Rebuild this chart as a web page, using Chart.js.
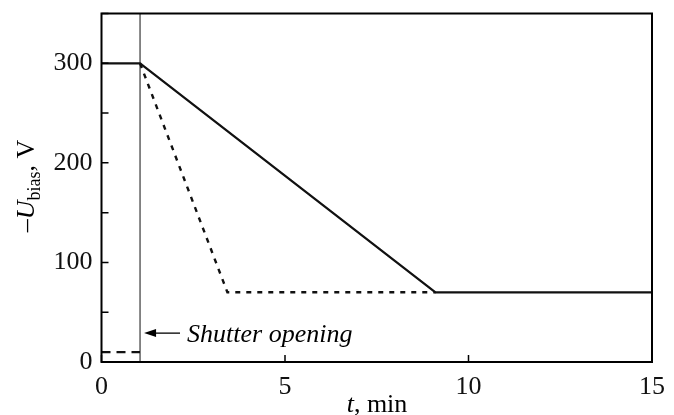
<!DOCTYPE html>
<html>
<head>
<meta charset="utf-8">
<script src="https://cdn.jsdelivr.net/npm/chart.js@4"></script>
<style>
  html, body { margin: 0; padding: 0; background: #fff; }
  #wrap { width: 674px; height: 415px; }
</style>
</head>
<body>
<div id="wrap"><canvas id="chart" width="674" height="415"></canvas></div>
<script>
// values (t in min, -U_bias in V)
const tSolid = [0, 1.05, 9.1, 15];
const uSolid = [300, 300, 70, 70];
const tDotted = [1.05, 3.43, 9.1];
const uDotted = [300, 70, 70];
const tBase = [0, 1.05];
const uBase = [10, 10];
const tShutter = [1.05, 1.05];
const uShutter = [0, 350];
const xTickLabels = [0, 5, 10, 15];
const yTickLabels = [0, 100, 200, 300];

const FONT = '"Liberation Serif", "DejaVu Serif", serif';

function pts(xs, ys) {
    return xs.map((x, i) => ({ x: x, y: ys[i] }));
}

// frame, inward ticks, titles and the shutter note
const decor = {
    id: 'decor',
    afterDraw(chart) {
        const ctx = chart.ctx;
        const a = chart.chartArea;
        const sx = chart.scales.x;
        const sy = chart.scales.y;
        ctx.save();
        ctx.strokeStyle = '#000';
        ctx.lineWidth = 2;
        ctx.strokeRect(a.left, a.top, a.right - a.left, a.bottom - a.top);

        // ticks pointing in
        ctx.lineWidth = 1.5;
        ctx.beginPath();
        sy.ticks.forEach(t => {
            const y = sy.getPixelForValue(t.value);
            ctx.moveTo(a.left, y);
            ctx.lineTo(a.left + 7, y);
        });
        sx.ticks.forEach(t => {
            const x = sx.getPixelForValue(t.value);
            ctx.moveTo(x, a.bottom);
            ctx.lineTo(x, a.bottom - 7);
        });
        ctx.stroke();

        // arrow + "Shutter opening"
        const x0 = sx.getPixelForValue(tShutter[0]);
        const ya = sy.getPixelForValue(29);
        ctx.fillStyle = '#000';
        ctx.lineWidth = 1.3;
        ctx.beginPath();
        ctx.moveTo(x0 + 14, ya);
        ctx.lineTo(x0 + 40, ya);
        ctx.stroke();
        ctx.beginPath();
        ctx.moveTo(x0 + 4, ya);
        ctx.lineTo(x0 + 16, ya - 4);
        ctx.lineTo(x0 + 16, ya + 4);
        ctx.closePath();
        ctx.fill();
        ctx.font = 'italic 26px ' + FONT;
        ctx.textBaseline = 'alphabetic';
        ctx.textAlign = 'left';
        ctx.fillText('Shutter opening', x0 + 47, ya + 9);

        // x title: t, min
        ctx.font = 'italic 26px ' + FONT;
        let w1 = ctx.measureText('t').width;
        ctx.font = '26px ' + FONT;
        let w2 = ctx.measureText(', min').width;
        let xs = 377 - (w1 + w2) / 2;
        ctx.font = 'italic 26px ' + FONT;
        ctx.fillText('t', xs, 412);
        ctx.font = '26px ' + FONT;
        ctx.fillText(', min', xs + w1, 412);

        // y title: -U_bias, V (rotated)
        ctx.translate(34, 186);
        ctx.rotate(-Math.PI / 2);
        const parts = [
            { s: '\u2013', f: '26px ' + FONT, dy: 0 },
            { s: 'U', f: 'italic 26px ' + FONT, dy: 0 },
            { s: 'bias', f: '18px ' + FONT, dy: 6 },
            { s: ', V', f: '26px ' + FONT, dy: 0 }
        ];
        let total = 0;
        parts.forEach(p => { ctx.font = p.f; p.w = ctx.measureText(p.s).width; total += p.w; });
        let cx = -total / 2;
        parts.forEach(p => {
            ctx.font = p.f;
            ctx.fillText(p.s, cx, p.dy);
            cx += p.w;
        });
        ctx.restore();
    }
};

new Chart(document.getElementById('chart'), {
    type: 'scatter',
    data: {
        datasets: [
            { data: pts(tSolid, uSolid), borderColor: '#111', borderWidth: 2.2 },
            { data: pts(tDotted, uDotted), borderColor: '#111', borderWidth: 2.4, borderDash: [5, 6] },
            { data: pts(tBase, uBase), borderColor: '#111', borderWidth: 2.2, borderDash: [9, 6] },
            { data: pts(tShutter, uShutter), borderColor: '#111', borderWidth: 1 }
        ].map(d => Object.assign(d, { showLine: true, pointRadius: 0, fill: false, tension: 0 }))
    },
    options: {
        responsive: false,
        animation: false,
        layout: { padding: { top: 13.5, right: 22, left: 0, bottom: 0 } },
        plugins: { legend: { display: false }, tooltip: { enabled: false } },
        scales: {
            x: {
                type: 'linear',
                min: 0, max: 15,
                grid: { display: false, drawTicks: false },
                border: { display: false },
                afterFit(s) { s.height = 53; s.paddingLeft = 0; s.paddingRight = 0; },
                ticks: {
                    stepSize: 5,
                    color: '#111',
                    padding: 10,
                    font: { family: FONT, size: 26 },
                    callback: v => xTickLabels.includes(v) ? String(v) : ''
                }
            },
            y: {
                type: 'linear',
                min: 0, max: 350,
                grid: { display: false, drawTicks: false },
                border: { display: false },
                afterFit(s) { s.width = 101.5; s.paddingTop = 0; s.paddingBottom = 0; },
                ticks: {
                    stepSize: 50,
                    color: '#111',
                    padding: 9,
                    font: { family: FONT, size: 26 },
                    callback: v => yTickLabels.includes(v) ? String(v) : ''
                }
            }
        }
    },
    plugins: [decor]
});
</script>
</body>
</html>
